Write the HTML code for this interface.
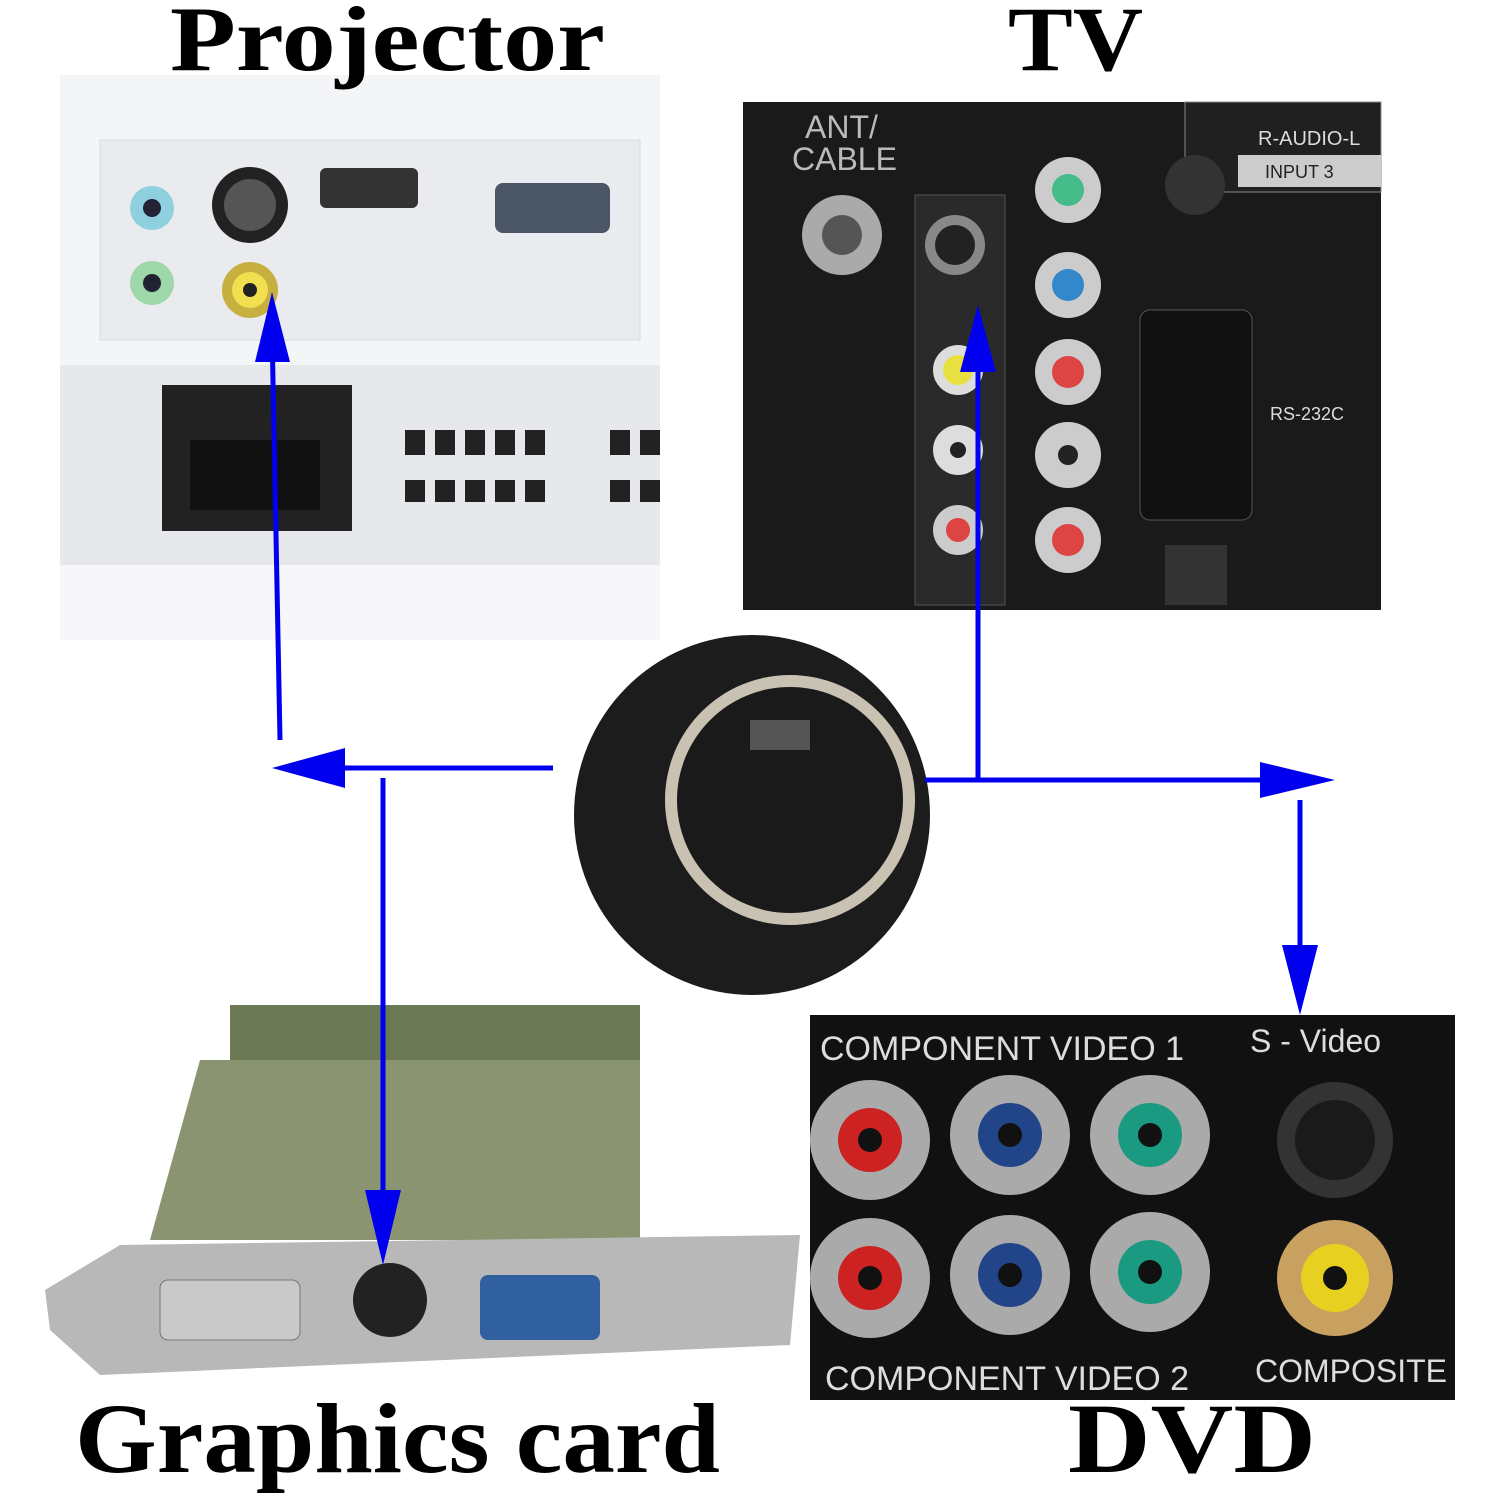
<!DOCTYPE html>
<html><head><meta charset="utf-8"><style>
html,body{margin:0;padding:0;background:#fff;}
svg{display:block}
</style></head><body>
<svg width="1500" height="1500" viewBox="0 0 1500 1500" xmlns="http://www.w3.org/2000/svg">
<rect width="1500" height="1500" fill="#fff"/>
<!-- Projector -->
<rect x="60" y="75" width="600" height="565" fill="#eceef0"/>
<rect x="60" y="75" width="600" height="290" fill="#f4f5f7"/>
<rect x="60" y="365" width="600" height="200" fill="#e6e8ec"/>
<rect x="60" y="565" width="600" height="75" fill="#f7f7f9"/>
<rect x="100" y="140" width="540" height="200" fill="#e9ebee" stroke="#d8dadd"/>
<circle cx="152" cy="208" r="22" fill="#8fd0e0"/><circle cx="152" cy="208" r="9" fill="#223"/>
<circle cx="152" cy="283" r="22" fill="#9fd8a8"/><circle cx="152" cy="283" r="9" fill="#223"/>
<circle cx="250" cy="205" r="38" fill="#222"/><circle cx="250" cy="205" r="26" fill="#555"/>
<circle cx="250" cy="290" r="28" fill="#c8b040"/><circle cx="250" cy="290" r="18" fill="#f0e050"/><circle cx="250" cy="290" r="7" fill="#222"/>
<rect x="320" y="168" width="98" height="40" rx="6" fill="#333"/>
<rect x="495" y="183" width="115" height="50" rx="8" fill="#4a5566"/>
<rect x="162" y="385" width="190" height="146" fill="#222"/>
<rect x="190" y="440" width="130" height="70" fill="#111"/>
<g fill="#222"><rect x="405" y="430" width="20" height="25"/><rect x="435" y="430" width="20" height="25"/><rect x="465" y="430" width="20" height="25"/><rect x="495" y="430" width="20" height="25"/><rect x="525" y="430" width="20" height="25"/><rect x="610" y="430" width="20" height="25"/><rect x="640" y="430" width="20" height="25"/>
<rect x="405" y="480" width="20" height="22"/><rect x="435" y="480" width="20" height="22"/><rect x="465" y="480" width="20" height="22"/><rect x="495" y="480" width="20" height="22"/><rect x="525" y="480" width="20" height="22"/><rect x="610" y="480" width="20" height="22"/><rect x="640" y="480" width="20" height="22"/></g>
<!-- TV -->
<rect x="743" y="102" width="638" height="508" fill="#1a1a1a"/>
<rect x="915" y="195" width="90" height="410" fill="#2a2a2a" stroke="#555"/>
<rect x="1185" y="102" width="196" height="90" fill="#202020" stroke="#888"/>
<rect x="1238" y="155" width="143" height="32" fill="#ccc"/>
<text x="1258" y="145" font-family="Liberation Sans,sans-serif" font-size="20" fill="#ddd">R-AUDIO-L</text>
<text x="1265" y="178" font-family="Liberation Sans,sans-serif" font-size="18" fill="#222">INPUT 3</text>
<text x="805" y="138" font-family="Liberation Sans,sans-serif" font-size="32" fill="#bbb">ANT/</text>
<text x="792" y="170" font-family="Liberation Sans,sans-serif" font-size="32" fill="#bbb">CABLE</text>
<circle cx="842" cy="235" r="40" fill="#aaa"/><circle cx="842" cy="235" r="20" fill="#555"/>
<circle cx="955" cy="245" r="30" fill="#888"/><circle cx="955" cy="245" r="20" fill="#222"/>
<circle cx="958" cy="370" r="25" fill="#ddd"/><circle cx="958" cy="370" r="15" fill="#e8e040"/>
<circle cx="958" cy="450" r="25" fill="#ddd"/><circle cx="958" cy="450" r="8" fill="#222"/>
<circle cx="958" cy="530" r="25" fill="#ccc"/><circle cx="958" cy="530" r="12" fill="#d44"/>
<g>
<circle cx="1068" cy="190" r="33" fill="#ccc"/><circle cx="1068" cy="190" r="16" fill="#4b8"/>
<circle cx="1068" cy="285" r="33" fill="#ccc"/><circle cx="1068" cy="285" r="16" fill="#38c"/>
<circle cx="1068" cy="372" r="33" fill="#ccc"/><circle cx="1068" cy="372" r="16" fill="#d44"/>
<circle cx="1068" cy="455" r="33" fill="#ccc"/><circle cx="1068" cy="455" r="10" fill="#222"/>
<circle cx="1068" cy="540" r="33" fill="#ccc"/><circle cx="1068" cy="540" r="16" fill="#d44"/>
</g>
<circle cx="1195" cy="185" r="30" fill="#333"/>
<rect x="1140" y="310" width="112" height="210" rx="10" fill="#111" stroke="#555"/>
<text x="1270" y="420" font-family="Liberation Sans,sans-serif" font-size="18" fill="#ddd">RS-232C</text>
<rect x="1165" y="545" width="62" height="60" fill="#333"/>
<!-- center connector -->
<ellipse cx="752" cy="815" rx="178" ry="180" fill="#1c1c1c"/>
<circle cx="790" cy="800" r="125" fill="#c9c2b2"/>
<circle cx="790" cy="800" r="113" fill="#1a1a1a"/>
<rect x="750" y="720" width="60" height="30" fill="#555"/>
<!-- Graphics card -->
<polygon points="230,1005 640,1005 640,1240 230,1240" fill="#6b7a55"/>
<polygon points="200,1060 640,1060 640,1240 150,1240" fill="#8a9470"/>
<polygon points="45,1290 120,1245 800,1235 790,1345 100,1375 50,1330" fill="#b8b8b8"/>
<rect x="160" y="1280" width="140" height="60" rx="8" fill="#c9c9c9" stroke="#777"/>
<circle cx="390" cy="1300" r="37" fill="#222"/>
<rect x="480" y="1275" width="120" height="65" rx="8" fill="#3060a0"/>
<!-- DVD -->
<rect x="810" y="1015" width="645" height="385" fill="#111"/>
<text x="820" y="1060" font-family="Liberation Sans,sans-serif" font-size="34" fill="#ddd">COMPONENT VIDEO 1</text>
<text x="1250" y="1052" font-family="Liberation Sans,sans-serif" font-size="32" fill="#ddd">S - Video</text>
<text x="825" y="1390" font-family="Liberation Sans,sans-serif" font-size="34" fill="#ddd">COMPONENT VIDEO 2</text>
<text x="1255" y="1382" font-family="Liberation Sans,sans-serif" font-size="32" fill="#ddd">COMPOSITE</text>
<g>
<circle cx="870" cy="1140" r="60" fill="#aaa"/><circle cx="870" cy="1140" r="32" fill="#c22"/><circle cx="870" cy="1140" r="12" fill="#111"/>
<circle cx="1010" cy="1135" r="60" fill="#aaa"/><circle cx="1010" cy="1135" r="32" fill="#248"/><circle cx="1010" cy="1135" r="12" fill="#111"/>
<circle cx="1150" cy="1135" r="60" fill="#aaa"/><circle cx="1150" cy="1135" r="32" fill="#1a9a80"/><circle cx="1150" cy="1135" r="12" fill="#111"/>
<circle cx="870" cy="1278" r="60" fill="#aaa"/><circle cx="870" cy="1278" r="32" fill="#c22"/><circle cx="870" cy="1278" r="12" fill="#111"/>
<circle cx="1010" cy="1275" r="60" fill="#aaa"/><circle cx="1010" cy="1275" r="32" fill="#248"/><circle cx="1010" cy="1275" r="12" fill="#111"/>
<circle cx="1150" cy="1272" r="60" fill="#aaa"/><circle cx="1150" cy="1272" r="32" fill="#1a9a80"/><circle cx="1150" cy="1272" r="12" fill="#111"/>
<circle cx="1335" cy="1140" r="58" fill="#333"/><circle cx="1335" cy="1140" r="40" fill="#1a1a1a"/>
<circle cx="1335" cy="1278" r="58" fill="#c8a060"/><circle cx="1335" cy="1278" r="34" fill="#e8d020"/><circle cx="1335" cy="1278" r="12" fill="#111"/>
</g>
<!-- Arrows -->
<g stroke="#0000ee" stroke-width="5" fill="none">
<line x1="553" y1="768" x2="330" y2="768"/>
<line x1="280" y1="740" x2="272" y2="330"/>
<line x1="383" y1="778" x2="383" y2="1200"/>
<line x1="978" y1="778" x2="978" y2="360"/>
<line x1="925" y1="780" x2="1270" y2="780"/>
<line x1="1300" y1="800" x2="1300" y2="960"/>
</g>
<g fill="#0000ee">
<polygon points="272,768 345,748 345,788"/>
<polygon points="272,292 255,362 290,362"/>
<polygon points="383,1265 365,1190 401,1190"/>
<polygon points="978,305 960,372 996,372"/>
<polygon points="1335,780 1260,762 1260,798"/>
<polygon points="1300,1015 1282,945 1318,945"/>
</g>
<!-- Titles -->
<g font-family="Liberation Serif,serif" font-weight="bold" fill="#000">
<text x="170" y="70" font-size="92" textLength="435" lengthAdjust="spacingAndGlyphs">Projector</text>
<text x="1008" y="70" font-size="92" textLength="135" lengthAdjust="spacingAndGlyphs">TV</text>
<text x="75" y="1472" font-size="100" textLength="645" lengthAdjust="spacingAndGlyphs">Graphics card</text>
<text x="1068" y="1472" font-size="100" textLength="248" lengthAdjust="spacingAndGlyphs">DVD</text>
</g>
</svg>
</body></html>
